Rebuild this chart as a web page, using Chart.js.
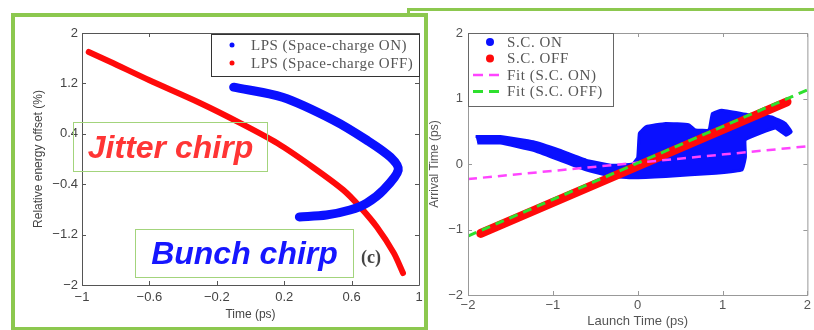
<!DOCTYPE html>
<html>
<head>
<meta charset="utf-8">
<script src="https://cdn.jsdelivr.net/npm/chart.js@4/dist/chart.umd.min.js"></script>
<style>
  html, body { margin: 0; padding: 0; background: #fff; }
  #stage { position: relative; width: 814px; height: 330px; overflow: hidden; }
  .frame { position: absolute; box-sizing: border-box; border: 4px solid #8cc84f; }
  #frameRight { left: 407px; top: 8px; width: 420px; height: 340px; border-width: 3px; }
  #frameLeft { left: 11px; top: 13px; width: 417px; height: 318px; background: #fff; }
  canvas { position: absolute; left: 0; top: 0; }
  .note {
    position: absolute; box-sizing: border-box; border: 1.5px solid #a3d47c;
    font-family: 'Liberation Sans', Arial, sans-serif; font-weight: bold; font-style: italic;
    font-size: 32px; display: flex; align-items: center; justify-content: center;
  }
  #jitter { left: 73px; top: 122px; width: 195px; height: 50px; color: #ff3535; }
  #bunch { left: 135px; top: 229px; width: 219px; height: 49px; color: #1616ff; }
  #panelTag { position: absolute; left: 361px; top: 247px; font: bold 18px 'Liberation Serif', serif; color: #444; }
</style>
</head>
<body>
<div id="stage">
  <div class="frame" id="frameRight"></div>
  <div class="frame" id="frameLeft"></div>
  <canvas id="lpsChart" width="814" height="330"></canvas>
  <div class="note" id="jitter">Jitter chirp</div>
  <div class="note" id="bunch">Bunch chirp</div>
  <div id="panelTag">(c)</div>
  <canvas id="arrivalChart" width="814" height="330"></canvas>
</div>
<script>
// panel (c) left: longitudinal phase space
const lpsOnTime = [-0.10, 0.19, 0.49, 0.69, 0.83, 0.877, 0.79, 0.69, 0.59, 0.45, 0.29];
const lpsOnEnergy = [1.14, 0.98, 0.62, 0.30, 0.03, -0.175, -0.49, -0.70, -0.81, -0.89, -0.92];
const lpsOffTime = [-0.96, -0.83, -0.60, -0.30, -0.06, 0.16, 0.37, 0.55, 0.65, 0.75, 0.85, 0.905];
const lpsOffEnergy = [1.70, 1.54, 1.25, 0.89, 0.57, 0.25, -0.13, -0.49, -0.76, -1.08, -1.49, -1.81];
const lpsTimeTicks = [-1, -0.6, -0.2, 0.2, 0.6, 1];
const lpsEnergyTicks = [-2, -1.2, -0.4, 0.4, 1.2, 2];

// right: arrival time vs launch time (S.C. ON cloud given by its outline)
const cloudLaunch = [-1.91, -1.62, -1.23, -0.92, -0.61, -0.30, -0.06, 0.00, 0.02, 0.10, 0.33, 0.60, 0.68, 0.84, 0.88, 0.99, 1.31, 1.58, 1.74, 1.81, 1.75, 1.62, 1.27, 1.27, 1.23, 0.92, 0.33, -0.06, -0.30, -0.61, -0.92, -1.23, -1.62, -1.89];
const cloudArrival = [0.42, 0.42, 0.34, 0.21, 0.06, -0.02, 0.00, 0.10, 0.47, 0.57, 0.62, 0.60, 0.52, 0.52, 0.77, 0.82, 0.75, 0.72, 0.62, 0.49, 0.44, 0.55, 0.37, 0.11, -0.09, -0.14, -0.19, -0.21, -0.19, -0.09, 0.06, 0.21, 0.32, 0.32];
const scOffLaunch = [-1.85, 1.76];
const scOffArrival = [-1.06, 0.95];
const fitOnLaunch = [-2, 2];
const fitOnArrival = [-0.23, 0.27];
const fitOffLaunch = [-2, 2];
const fitOffArrival = [-1.10, 1.13];
const launchTicks = [-2, -1, 0, 1, 2];
const arrivalTicks = [-2, -1, 0, 1, 2];

const pts = (xs, ys) => xs.map((x, i) => ({ x: x, y: ys[i] }));
const fmt = v => String(Number(v.toFixed(2))).replace('-', '\u2212');

Chart.defaults.font.family = "'Liberation Sans', Arial, sans-serif";
Chart.defaults.animation = false;

// matlab style box with inward ticks
const boxTicks = {
    id: 'boxTicks',
    afterDatasetsDraw(chart, args, opts) {
        const { ctx, chartArea: a, scales: { x, y } } = chart;
        const len = opts.len || 4;
        ctx.save();
        ctx.strokeStyle = opts.color;
        ctx.lineWidth = opts.width || 1;
        ctx.beginPath();
        ctx.rect(a.left + 0.5, a.top + 0.5, a.right - a.left, a.bottom - a.top);
        x.ticks.forEach(t => {
            const px = Math.round(x.getPixelForValue(t.value)) + 0.5;
            ctx.moveTo(px, a.bottom); ctx.lineTo(px, a.bottom - len);
            ctx.moveTo(px, a.top); ctx.lineTo(px, a.top + len);
        });
        y.ticks.forEach(t => {
            const py = Math.round(y.getPixelForValue(t.value)) + 0.5;
            ctx.moveTo(a.left, py); ctx.lineTo(a.left + len, py);
            ctx.moveTo(a.right, py); ctx.lineTo(a.right - len, py);
        });
        ctx.stroke();
        ctx.restore();
    }
};

// legend drawn inside the axes box
const insetLegend = {
    id: 'insetLegend',
    afterDraw(chart, args, o) {
        const { ctx, chartArea: a } = chart;
        const left = o.align === 'right' ? a.right - o.width : a.left;
        const top = a.top + (o.offsetY || 0);
        ctx.save();
        ctx.fillStyle = '#fff';
        ctx.fillRect(left, top, o.width, o.height);
        ctx.strokeStyle = o.borderColor;
        ctx.lineWidth = 1;
        ctx.strokeRect(left + 0.5, top + 0.5, o.width, o.height);
        ctx.font = o.font;
        ctx.letterSpacing = o.spacing || '0px';
        ctx.textBaseline = 'middle';
        chart.data.datasets.forEach((ds, i) => {
            const cy = top + o.padTop + i * o.rowHeight;
            const m = ds.legendMark;
            if (m.type === 'dot') {
                ctx.fillStyle = m.color;
                ctx.beginPath();
                ctx.arc(left + o.markX, cy, m.r, 0, Math.PI * 2);
                ctx.fill();
            } else {
                ctx.strokeStyle = m.color;
                ctx.lineWidth = m.width;
                ctx.setLineDash(m.dash);
                ctx.beginPath();
                ctx.moveTo(left + o.dashFrom, cy);
                ctx.lineTo(left + o.dashTo, cy);
                ctx.stroke();
                ctx.setLineDash([]);
            }
            ctx.fillStyle = o.textColor;
            ctx.fillText(ds.label, left + o.textX, cy + 1);
        });
        ctx.restore();
    }
};

new Chart(document.getElementById('lpsChart'), {
    type: 'scatter',
    data: {
        datasets: [{
            label: 'LPS (Space-charge ON)',
            data: pts(lpsOnTime, lpsOnEnergy),
            showLine: true, pointRadius: 0, tension: 0.3,
            borderColor: '#0a10ff', borderWidth: 9,
            borderCapStyle: 'round', borderJoinStyle: 'round',
            legendMark: { type: 'dot', color: '#0a10ff', r: 2.5 }
        }, {
            label: 'LPS (Space-charge OFF)',
            data: pts(lpsOffTime, lpsOffEnergy),
            showLine: true, pointRadius: 0, tension: 0.3,
            borderColor: '#ff0a0a', borderWidth: 6,
            borderCapStyle: 'round', borderJoinStyle: 'round',
            legendMark: { type: 'dot', color: '#ff0a0a', r: 2.5 }
        }]
    },
    options: {
        responsive: false,
        layout: { padding: { left: 27, top: 33, right: 395, bottom: 4 } },
        scales: {
            x: {
                min: -1, max: 1,
                afterBuildTicks: s => { s.ticks = lpsTimeTicks.map(v => ({ value: v })); },
                afterFit: s => { s.height = 41; },
                grid: { display: false, drawTicks: false },
                border: { display: false },
                ticks: { color: '#444', font: { size: 13 }, padding: 5, callback: fmt, maxRotation: 0, autoSkip: false },
                title: { display: true, text: 'Time (ps)', color: '#444', font: { size: 12 } }
            },
            y: {
                min: -2, max: 2,
                afterBuildTicks: s => { s.ticks = lpsEnergyTicks.map(v => ({ value: v })); },
                afterFit: s => { s.width = 55; },
                grid: { display: false, drawTicks: false },
                border: { display: false },
                ticks: { color: '#444', font: { size: 13 }, padding: 4, callback: fmt, autoSkip: false },
                title: { display: true, text: 'Relative energy offset (%)', color: '#444', font: { size: 12 } }
            }
        },
        plugins: {
            legend: { display: false },
            tooltip: { enabled: false },
            boxTicks: { color: '#555', len: 4 },
            insetLegend: {
                align: 'right', offsetY: 1, width: 208, height: 42,
                padTop: 11, rowHeight: 18, markX: 21, textX: 40,
                font: "15px 'Liberation Serif', serif", spacing: '0.5px',
                textColor: '#555', borderColor: '#333'
            }
        }
    },
    plugins: [boxTicks, insetLegend]
});

new Chart(document.getElementById('arrivalChart'), {
    type: 'scatter',
    data: {
        datasets: [{
            label: 'S.C. ON',
            data: pts(cloudLaunch, cloudArrival),
            showLine: true, pointRadius: 0, tension: 0.1,
            borderColor: '#0a10ff', backgroundColor: '#0a10ff', borderWidth: 3,
            borderJoinStyle: 'round', fill: 'shape', order: 4,
            legendMark: { type: 'dot', color: '#0a10ff', r: 4 }
        }, {
            label: 'S.C. OFF',
            data: pts(scOffLaunch, scOffArrival),
            showLine: true, pointRadius: 0,
            borderColor: '#ff0a0a', borderWidth: 9, borderCapStyle: 'round', order: 3,
            legendMark: { type: 'dot', color: '#ff0a0a', r: 4 }
        }, {
            label: 'Fit (S.C. ON)',
            data: pts(fitOnLaunch, fitOnArrival),
            showLine: true, pointRadius: 0,
            borderColor: '#ff44ff', borderWidth: 2.5, borderDash: [9, 6], order: 2,
            legendMark: { type: 'dash', color: '#ff44ff', width: 2.5, dash: [10, 6] }
        }, {
            label: 'Fit (S.C. OFF)',
            data: pts(fitOffLaunch, fitOffArrival),
            showLine: true, pointRadius: 0,
            borderColor: '#2ee02e', borderWidth: 3, borderDash: [9, 6], order: 1,
            legendMark: { type: 'dash', color: '#2ee02e', width: 3, dash: [10, 6] }
        }]
    },
    options: {
        responsive: false,
        layout: { padding: { left: 423, top: 33, right: 5, bottom: 1 } },
        scales: {
            x: {
                min: -2, max: 2,
                afterBuildTicks: s => { s.ticks = launchTicks.map(v => ({ value: v })); },
                afterFit: s => { s.height = 34; },
                grid: { display: false, drawTicks: false },
                border: { display: false },
                ticks: { color: '#555', font: { size: 13 }, padding: 3, callback: fmt, maxRotation: 0, autoSkip: false },
                title: { display: true, text: 'Launch Time (ps)', color: '#555', font: { size: 13 }, padding: { top: 0, bottom: 0 } }
            },
            y: {
                min: -2, max: 2,
                afterBuildTicks: s => { s.ticks = arrivalTicks.map(v => ({ value: v })); },
                afterFit: s => { s.width = 45; },
                grid: { display: false, drawTicks: false },
                border: { display: false },
                ticks: { color: '#555', font: { size: 13 }, padding: 5, callback: fmt, autoSkip: false },
                title: { display: true, text: 'Arrival Time (ps)', color: '#555', font: { size: 12 } }
            }
        },
        plugins: {
            legend: { display: false },
            tooltip: { enabled: false },
            boxTicks: { color: '#999', len: 4 },
            insetLegend: {
                align: 'left', offsetY: 0, width: 145, height: 73,
                padTop: 9, rowHeight: 16.5, markX: 22, dashFrom: 5, dashTo: 37, textX: 39,
                font: "15px 'Liberation Serif', serif", spacing: '0.6px',
                textColor: '#555', borderColor: '#666'
            }
        }
    },
    plugins: [boxTicks, insetLegend]
});
</script>
</body>
</html>
